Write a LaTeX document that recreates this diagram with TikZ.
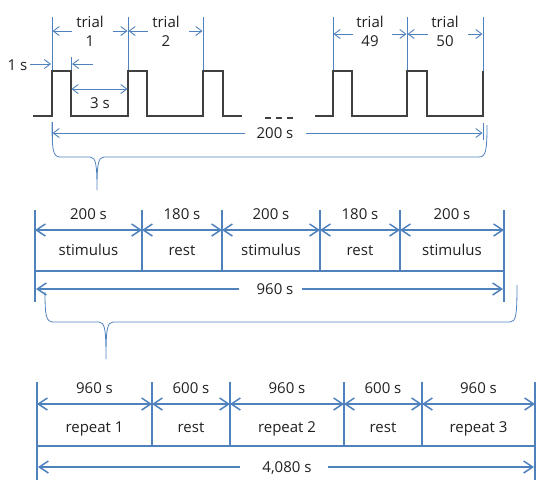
\documentclass[tikz,border=0pt]{standalone}
\usepackage{fontspec}
\setmainfont{Open Sans}
\usetikzlibrary{arrows.meta}
\definecolor{lineblue}{HTML}{4F81BD}
\definecolor{pulsegray}{HTML}{404040}
\definecolor{textgray}{HTML}{202020}

\begin{document}
\begin{tikzpicture}[x=1pt, y=-1pt,
	  pulse/.style={draw=pulsegray, line width=1.3pt},
	  guide/.style={draw=lineblue, line width=0.9pt},
	  sarr/.style={guide, -{Straight Barb[length=6pt,width=9pt]}},
	  sarrs/.style={guide, {Straight Barb[length=6pt,width=9pt]}-{Straight Barb[length=6pt,width=9pt]}},
	  seg/.style={draw=lineblue, line width=1.5pt},
	  barr/.style={seg, -{Straight Barb[length=9pt,width=12pt]}},
	  barrs/.style={seg, {Straight Barb[length=9pt,width=12pt]}-{Straight Barb[length=9pt,width=12pt]}},
	  brc/.style={draw=lineblue, line width=0.8pt},
	  lbl/.style={font=\fontsize{15}{19}\selectfont, text=textgray, inner sep=0pt, anchor=base},
	  ttl/.style={font=\fontsize{15}{19}\selectfont, text=textgray, inner sep=0pt, align=center},
	]
	  \useasboundingbox (0,0) rectangle (536,480);

	  % trial borders
	  \draw [guide] (52,17)--(52,71);
	  \draw [guide] (128,17)--(128,71);
	  \draw [guide] (203,17)--(203,71);
	  \draw [guide] (333,17)--(333,71);
	  \draw [guide] (407,17)--(407,71);
	  \draw [guide] (483,17)--(483,71);
	  \draw [guide] (71,57)--(71,71);

	  % pulse train
	  \draw [pulse] (33,116)--(52,116)--(52,71)--(71,71)--(71,116)--(128,116)--(128,71)--(147,71)--(147,116)
	        --(203,116)--(203,71)--(223,71)--(223,116)--(242,116);
	  \draw [pulse, dash pattern=on 6pt off 5pt] (265,118)--(294,118);
	  \draw [pulse] (315,116)--(333,116)--(333,71)--(352,71)--(352,116)--(407,116)--(407,71)--(427,71)--(427,116)
	        --(483,116)--(483,71);

	  % trials
	  \node (tr1) [ttl] at (90,31) {trial\\1};
	  \draw [sarr] (72,31)--(52.5,31);
	  \draw [sarr] (113,31)--(127.5,31);
	  \node (tr2) [ttl] at (166,31) {trial\\2};
	  \draw [sarr] (148,31)--(128.5,31);
	  \draw [sarr] (189,31)--(202.5,31);
	  \node (tr49) [ttl] at (370,31) {trial\\49};
	  \draw [sarr] (353,34)--(333.5,34);
	  \draw [sarr] (392,34)--(406.5,34);
	  \node (tr50) [ttl] at (445,31) {trial\\50};
	  \draw [sarr] (428,34)--(407.5,34);
	  \draw [sarr] (468,34)--(482.5,34);

	  % on and off times
	  \node (on) [lbl] at (17.5,70.5) {1 s};
	  \draw [sarr] (30,64)--(51,64);
	  \draw [sarr] (93,64)--(72,64);
	  \draw [sarrs] (71.5,89)--(127.5,89);
	  \node (off) [lbl] at (100,108) {3 s};

	  % one block
	  \draw [guide] (52,122)--(52,140);
	  \draw [guide] (483,123)--(483,140);
	  \node (blk) [lbl] at (275,138) {200 s};
	  \draw [sarr] (245,133)--(52.5,133);
	  \draw [sarr] (306,133)--(482.5,133);

	  \draw [brc] (52,122) .. controls (52,150) and (53,157) .. (60,157) -- (90,157)
	        .. controls (96,157) and (97,165) .. (97,190)
	        .. controls (97,165) and (98,157) .. (104,157) -- (479,157)
	        .. controls (486,157) and (487,150) .. (487,125);

	  % one repeat
	  \draw [seg] (35,210)--(35,302);
	  \draw [seg] (504,210)--(504,302);
	  \draw [seg] (142,210)--(142,271);
	  \draw [seg] (222,210)--(222,271);
	  \draw [seg] (320,210)--(320,271);
	  \draw [seg] (400,210)--(400,271);
	  \draw [seg] (35,271)--(504,271);

	  \draw [barrs] (35,230)--(142,230) node (m1a) [lbl, midway, yshift=11pt] {200 s} node (m1b) [lbl, midway, yshift=-25pt] {stimulus};
	  \draw [barrs] (142,230)--(222,230) node (m2a) [lbl, midway, yshift=11pt] {180 s} node (m2b) [lbl, midway, yshift=-25pt] {rest};
	  \draw [barrs] (222,230)--(320,230) node (m3a) [lbl, midway, yshift=11pt] {200 s} node (m3b) [lbl, midway, yshift=-25pt] {stimulus};
	  \draw [barrs] (320,230)--(400,230) node (m4a) [lbl, midway, yshift=11pt] {180 s} node (m4b) [lbl, midway, yshift=-25pt] {rest};
	  \draw [barrs] (400,230)--(504,230) node (m5a) [lbl, midway, yshift=11pt] {200 s} node (m5b) [lbl, midway, yshift=-25pt] {stimulus};

	  \node (rep) [lbl] at (275,294.5) {960 s};
	  \draw [barr] (239,289)--(36,289);
	  \draw [barr] (302,289)--(503,289);

	  \draw [brc] (45,292) .. controls (45,315) and (46,322) .. (53,322) -- (99,322)
	        .. controls (105,322) and (106,330) .. (106,359)
	        .. controls (106,330) and (107,322) .. (113,322) -- (510,322)
	        .. controls (516,322) and (517,315) .. (517,285);

	  % whole run
	  \draw [seg] (37,382)--(37,480);
	  \draw [seg] (535,382)--(535,480);
	  \draw [seg] (152,382)--(152,446);
	  \draw [seg] (230,382)--(230,446);
	  \draw [seg] (344,382)--(344,446);
	  \draw [seg] (422,382)--(422,446);
	  \draw [seg] (37,446)--(535,446);

	  \draw [barrs] (37,404)--(152,404) node (r1a) [lbl, midway, yshift=11pt] {960 s} node (r1b) [lbl, midway, yshift=-28pt] {repeat 1};
	  \draw [barrs] (152,404)--(230,404) node (r2a) [lbl, midway, yshift=11pt] {600 s} node (r2b) [lbl, midway, yshift=-28pt] {rest};
	  \draw [barrs] (230,404)--(344,404) node (r3a) [lbl, midway, yshift=11pt] {960 s} node (r3b) [lbl, midway, yshift=-28pt] {repeat 2};
	  \draw [barrs] (344,404)--(422,404) node (r4a) [lbl, midway, yshift=11pt] {600 s} node (r4b) [lbl, midway, yshift=-28pt] {rest};
	  \draw [barrs] (422,404)--(535,404) node (r5a) [lbl, midway, yshift=11pt] {960 s} node (r5b) [lbl, midway, yshift=-28pt] {repeat 3};

	  \node (run) [lbl] at (287,472.5) {4,080 s};
	  \draw [barr] (240,467)--(38,467);
	  \draw [barr] (328,467)--(534,467);
	\end{tikzpicture}
\end{document}
